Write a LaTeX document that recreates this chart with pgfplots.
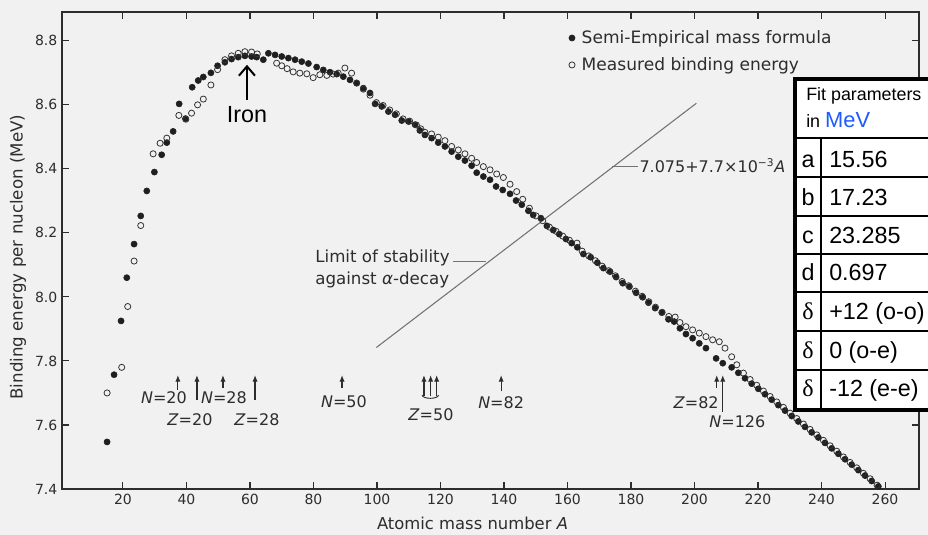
\documentclass[border=0pt]{standalone}
\usepackage{fontspec}
\setmainfont{DejaVu Sans}
\newfontfamily\arial{Liberation Sans}
\newfontfamily\tnr{Liberation Serif}
\usepackage{pgfplots}
\pgfplotsset{compat=1.18}
\usetikzlibrary{arrows.meta}
\definecolor{bg}{RGB}{241,241,241}
\definecolor{ink}{RGB}{45,45,45}
\definecolor{mevblue}{RGB}{30,90,255}

\pgfplotstableread{
A BE
15.0 7.547
17.2 7.757
19.4 7.925
21.2 8.060
23.5 8.165
25.6 8.253
27.5 8.331
29.9 8.390
32.2 8.444
33.8 8.482
35.8 8.517
37.7 8.603
39.7 8.557
41.8 8.655
43.7 8.676
45.3 8.687
47.7 8.700
49.8 8.722
52.1 8.733
54.2 8.743
56.3 8.749
58.4 8.753
60.5 8.751
62.1 8.749
64.2 8.741
65.8 8.761
67.9 8.756
70.0 8.751
72.1 8.746
74.2 8.741
76.3 8.735
78.4 8.729
81.0 8.718
83.1 8.709
85.2 8.702
87.3 8.696
89.4 8.688
91.5 8.678
93.6 8.668
95.7 8.652
97.8 8.637
99.4 8.603
101.5 8.595
103.6 8.579
105.7 8.569
107.8 8.551
109.9 8.548
112.0 8.538
113.5 8.520
115.1 8.506
117.2 8.496
119.3 8.482
121.4 8.470
123.5 8.454
125.6 8.438
127.7 8.426
129.8 8.410
131.4 8.388
133.5 8.376
135.6 8.366
137.5 8.345
139.6 8.334
141.9 8.322
143.8 8.301
145.6 8.288
147.7 8.269
149.2 8.256
151.6 8.246
153.5 8.222
155.5 8.209
157.4 8.196
159.5 8.181
161.3 8.168
163.1 8.155
165.0 8.134
167.3 8.124
169.4 8.107
171.3 8.090
173.4 8.079
175.3 8.062
177.4 8.043
179.5 8.032
181.6 8.013
183.7 7.999
185.5 7.982
187.6 7.965
189.7 7.951
191.8 7.930
193.6 7.923
195.4 7.902
197.3 7.884
199.4 7.871
201.5 7.855
203.6 7.840
206.8 7.808
208.9 7.793
211.7 7.780
213.8 7.763
215.9 7.746
218.0 7.729
220.1 7.713
222.2 7.696
224.3 7.679
226.4 7.662
228.5 7.645
230.6 7.628
232.7 7.611
234.8 7.594
236.9 7.577
239.0 7.561
241.1 7.544
243.2 7.527
245.3 7.510
247.4 7.493
249.5 7.476
251.6 7.459
253.7 7.442
255.8 7.425
257.9 7.408
}\semp

\pgfplotstableread{
A BE
15.0 7.700
19.6 7.780
21.5 7.970
23.5 8.112
25.6 8.223
29.5 8.447
31.7 8.480
33.8 8.496
37.6 8.567
39.8 8.555
41.6 8.574
43.5 8.600
45.3 8.618
47.7 8.662
49.8 8.710
52.1 8.741
54.2 8.753
56.3 8.761
58.4 8.766
60.5 8.765
62.3 8.759
68.4 8.730
70.0 8.722
71.7 8.713
73.6 8.703
75.7 8.699
77.9 8.697
79.9 8.685
82.0 8.694
84.2 8.692
86.2 8.696
87.8 8.699
89.9 8.715
92.0 8.699
93.6 8.668
95.7 8.649
97.8 8.630
99.8 8.607
101.9 8.598
104.0 8.584
106.1 8.572
108.2 8.556
110.3 8.549
112.4 8.537
113.8 8.525
115.1 8.514
117.2 8.509
119.3 8.499
121.4 8.488
123.5 8.470
125.6 8.459
127.7 8.447
129.8 8.433
131.4 8.420
133.5 8.407
135.6 8.397
137.7 8.384
139.8 8.373
141.9 8.352
144.0 8.329
145.9 8.305
148.0 8.277
150.1 8.253
152.2 8.238
154.3 8.218
156.4 8.205
158.5 8.190
160.6 8.177
163.0 8.168
164.6 8.143
166.7 8.128
168.8 8.113
170.9 8.096
173.0 8.082
175.1 8.066
177.2 8.048
179.3 8.035
181.4 8.018
183.5 8.002
185.6 7.985
187.7 7.968
189.8 7.952
191.9 7.939
193.9 7.937
195.4 7.920
197.3 7.907
199.4 7.897
201.5 7.887
203.6 7.876
205.7 7.866
207.8 7.860
209.6 7.840
211.7 7.813
213.3 7.788
215.4 7.762
217.5 7.742
219.6 7.724
221.7 7.706
223.8 7.689
225.9 7.672
228.0 7.655
230.1 7.637
232.2 7.620
234.3 7.603
236.4 7.586
238.5 7.569
240.6 7.552
242.7 7.535
244.8 7.518
246.9 7.500
249.0 7.483
251.1 7.466
253.2 7.449
255.3 7.432
257.5 7.412
}\meas

\begin{document}
\begin{tikzpicture}
\begin{scope}[x=0.75pt,y=-0.75pt,shift={(-46.5pt,366.75pt)}]
  \path[use as bounding box, fill=bg] (0,0) rectangle (928,535);
\end{scope}

\begin{axis}[
  at={(0,0)}, anchor=south west,
  scale only axis, width=642.75pt, height=357.75pt,
  xmin=0.8, xmax=270.7, ymin=7.4, ymax=8.89,
  xtick={20,40,...,260},
  ytick={7.4,7.6,7.8,8.0,8.2,8.4,8.6,8.8},
  yticklabel style={/pgf/number format/.cd, fixed, fixed zerofill, precision=1},
  /pgf/number format/assume math mode=true,
  tick label style={font=\fontsize{10.5}{12}\selectfont, text=ink},
  axis line style={ink, line width=1.1pt},
  major tick style={ink, line width=0.8pt},
  major tick length=5pt,
  tick align=inside,
  clip=false,
  xlabel={Atomic mass number \textit{A}},
  ylabel={Binding energy per nucleon (MeV)},
  xlabel style={at={(axis description cs:0.479,-0.0713)}, anchor=center, font=\fontsize{12.3}{14}\selectfont, text=ink},
  ylabel style={at={(axis description cs:-0.0513,0.486)}, anchor=center, font=\fontsize{12.5}{14}\selectfont, text=ink},
  legend style={at={(axis description cs:0.5915,0.964)}, anchor=north west, draw=none, fill=none,
    inner sep=0pt, outer sep=0pt, font=\fontsize{12.8}{15}\selectfont, text=ink, row sep=7pt, column sep=4pt,
    nodes={inner sep=1pt}},
  legend cell align=left,
  legend image code/.code={\draw[#1] plot coordinates {(0.1cm,0cm)};},
]
\addplot[only marks, mark=*, mark size=2.3pt, color=black!88] table[x=A,y=BE] {\semp};
\addlegendentry{Semi-Empirical mass formula}
\addplot[only marks, mark=o, mark size=2.3pt, color=black!80, mark options={line width=0.6pt, fill=none}] table[x=A,y=BE] {\meas};
\addlegendentry{Measured binding energy}

% limit of stability line
\addplot[black!55, line width=0.8pt, forget plot] coordinates {(99.8,7.842) (200.6,8.605)};

% annotations
\draw[black!55, line width=0.7pt] (axis cs:174,8.409) -- (axis cs:182.3,8.409);
\node[anchor=west, inner sep=0pt, text=ink, font=\fontsize{12}{13}\selectfont] at (axis cs:182.6,8.409) {7.075+7.7×10\textsuperscript{−3}\textit{A}};
\node[anchor=west, inner sep=0pt, text=ink, font=\fontsize{12.5}{14}\selectfont] at (axis cs:80.5,8.122) {Limit of stability};
\node[anchor=west, inner sep=0pt, text=ink, font=\fontsize{12.5}{14}\selectfont] at (axis cs:80.5,8.053) {against \textit{α}-decay};
\draw[black!55, line width=0.7pt] (axis cs:124,8.11) -- (axis cs:134.3,8.11);

% Iron
\draw[black, line width=1.5pt, -{Straight Barb[length=7pt,width=12pt,line width=1.5pt]}] (axis cs:59.05,8.616) -- (axis cs:59.05,8.725);
\node[anchor=center, inner sep=0pt, font=\arial\fontsize{17.5}{20}\selectfont] at (axis cs:59.05,8.569) {Iron};

% magic numbers
\tikzset{magic/.style={ink, line width=0.9pt, -{Latex[length=5pt,width=4pt]}}}
\draw[magic] (axis cs:37.3,7.710) -- (axis cs:37.3,7.756);
\draw[magic] (axis cs:43.3,7.678) -- (axis cs:43.3,7.756);
\draw[magic] (axis cs:51.5,7.716) -- (axis cs:51.5,7.756);
\draw[magic] (axis cs:61.6,7.678) -- (axis cs:61.6,7.756);
\node[text=ink, inner sep=0pt, font=\fontsize{12}{14}\selectfont] at (axis cs:32.9,7.684) {\textit{N}=20};
\node[text=ink, inner sep=0pt, font=\fontsize{12}{14}\selectfont] at (axis cs:41.1,7.616) {\textit{Z}=20};
\node[text=ink, inner sep=0pt, font=\fontsize{12}{14}\selectfont] at (axis cs:51.8,7.684) {\textit{N}=28};
\node[text=ink, inner sep=0pt, font=\fontsize{12}{14}\selectfont] at (axis cs:62.2,7.616) {\textit{Z}=28};

\draw[magic] (axis cs:89.0,7.716) -- (axis cs:89.0,7.756);
\node[text=ink, inner sep=0pt, font=\fontsize{12}{14}\selectfont] at (axis cs:89.6,7.672) {\textit{N}=50};

\draw[magic] (axis cs:114.8,7.690) -- (axis cs:114.8,7.756);
\draw[magic] (axis cs:116.9,7.690) -- (axis cs:116.9,7.756);
\draw[magic] (axis cs:118.8,7.690) -- (axis cs:118.8,7.756);
\draw[ink, line width=0.7pt] (axis cs:114.2,7.693) .. controls (axis cs:114.6,7.680) and (axis cs:119.0,7.680) .. (axis cs:119.4,7.693);
\node[text=ink, inner sep=0pt, font=\fontsize{12}{14}\selectfont] at (axis cs:117,7.631) {\textit{Z}=50};

\draw[magic] (axis cs:139.1,7.705) -- (axis cs:139.1,7.756);
\node[text=ink, inner sep=0pt, font=\fontsize{12}{14}\selectfont] at (axis cs:139.1,7.669) {\textit{N}=82};

\draw[magic] (axis cs:207.0,7.716) -- (axis cs:207.0,7.756);
\draw[magic] (axis cs:208.9,7.640) -- (axis cs:208.9,7.756);
\node[text=ink, inner sep=0pt, font=\fontsize{12}{14}\selectfont] at (axis cs:200.5,7.669) {\textit{Z}=82};
\node[text=ink, inner sep=0pt, font=\fontsize{12}{14}\selectfont] at (axis cs:213.5,7.609) {\textit{N}=126};
\end{axis}

% fit parameter table
\begin{scope}[x=0.75pt,y=-0.75pt,shift={(-46.5pt,366.75pt)}]
  \clip (0,0) rectangle (928,535);
  \fill[white] (795,79) rectangle (945,410);
  \foreach \yy in {177,216,254,292,331,370} {\draw[line width=1.1pt] (795,\yy) -- (945,\yy);}
  \draw[line width=1.5pt] (795,138) -- (945,138);
  \draw[line width=1.5pt] (821,138) -- (821,410);
  \draw[line width=2.6pt] (945,79) -- (795,79) -- (795,410) -- (945,410);
  \node[anchor=base west, inner sep=0pt, font=\arial\fontsize{13.4}{16}\selectfont] at (806,101) {Fit parameters};
  \node[anchor=base west, inner sep=0pt, font=\arial\fontsize{13.4}{16}\selectfont] at (806,128) {in \textcolor{mevblue}{\fontsize{16.4}{18}\selectfont MeV}};
  \foreach \l/\v/\b in {a/15.56/168, b/17.23/206, c/23.285/244, d/0.697/281} {
    \node[anchor=base, inner sep=0pt, font=\arial\fontsize{17.5}{20}\selectfont] at (808,\b) {\l};
    \node[anchor=base west, inner sep=0pt, font=\arial\fontsize{17.5}{20}\selectfont] at (829,\b) {\v};
  }
  \foreach \v/\b in {+12 (o-o)/320, 0 (o-e)/358.5, -12 (e-e)/397} {
    \node[anchor=base, inner sep=0pt, font=\tnr\fontsize{18}{20}\selectfont] at (808,\b) {δ};
    \node[anchor=base west, inner sep=0pt, font=\arial\fontsize{17.5}{20}\selectfont] at (829,\b) {\v};
  }
\end{scope}
\end{tikzpicture}
\end{document}
